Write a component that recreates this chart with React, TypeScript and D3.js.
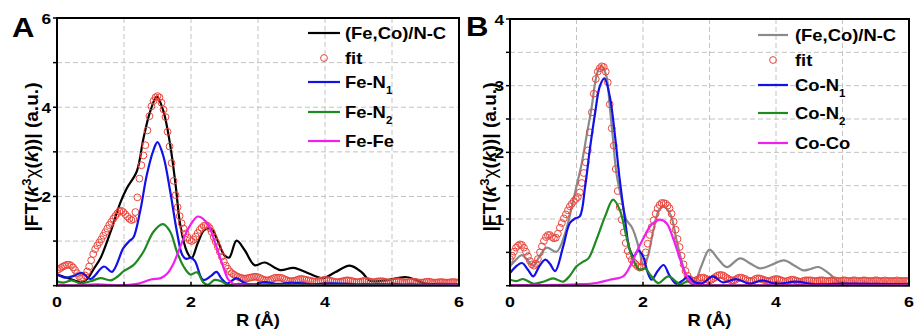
import React, { useLayoutEffect, useRef, useState } from "react";
import * as d3 from "d3";

type Pt = [number, number];

// ---- shared axis data ----
const R_DOMAIN: [number, number] = [0, 6];
const R_TICK_LABELS = [0, 2, 4, 6];
const R_GRID = [1, 2, 3, 4, 5];
const FIT_STEP = 0.03; // R spacing of the fitted points (Å)

// ---- panel A: Fe edge ----
const A_Y_MAX = 6;
const A_Y_LABELS = [2, 4, 6];
const A_Y_GRID = [1, 2, 3, 4, 5];

const A_DATA: Pt[] = [
  [0, 0.25], [0.1, 0.2], [0.2, 0.15], [0.3, 0.1], [0.37, 0.08], [0.45, 0.15], [0.55, 0.38],
  [0.65, 0.62], [0.8, 1.21], [0.95, 1.88], [1.04, 2.18], [1.19, 2.56], [1.29, 3.3], [1.39, 3.9],
  [1.49, 4.24], [1.59, 3.9], [1.69, 3.15], [1.77, 2.26], [1.84, 1.36], [1.94, 0.76], [2.01, 0.62],
  [2.1, 0.95], [2.2, 1.25], [2.3, 1.28], [2.4, 1.0], [2.5, 0.68], [2.57, 0.63], [2.68, 1.01],
  [2.8, 0.8], [2.95, 0.46], [3.1, 0.52], [3.33, 0.35], [3.53, 0.4], [3.75, 0.28], [3.97, 0.17],
  [4.15, 0.3], [4.37, 0.45], [4.55, 0.3], [4.67, 0.11], [4.9, 0.12], [5.22, 0.19], [5.5, 0.05],
  [5.75, 0.04], [6, 0.03],
];
const A_FEN1: Pt[] = [
  [0, 0.26], [0.12, 0.18], [0.25, 0.22], [0.37, 0.29], [0.5, 0.15], [0.7, 0.43], [0.82, 0.31],
  [0.99, 0.84], [1.08, 1.0], [1.14, 1.08], [1.24, 1.66], [1.34, 2.48], [1.44, 3.04], [1.5, 3.22],
  [1.59, 2.89], [1.69, 2.11], [1.79, 1.21], [1.87, 0.69], [1.93, 0.6], [2.0, 0.63], [2.06, 0.55],
  [2.18, 0.13], [2.3, 0.22], [2.38, 0.31], [2.46, 0.15], [2.54, 0.05], [2.68, 0.17], [2.8, 0.06],
  [2.95, 0.03], [3.1, 0.08], [3.3, 0.04], [3.5, 0.07], [3.8, 0.03], [4.1, 0.05], [4.5, 0.03],
  [5, 0.03], [6, 0.02],
];
const A_FEN2: Pt[] = [
  [0, 0.1], [0.1, 0.07], [0.22, 0.12], [0.35, 0.05], [0.5, 0.1], [0.65, 0.17], [0.8, 0.12],
  [0.9, 0.2], [1.0, 0.33], [1.14, 0.46], [1.29, 0.76], [1.44, 1.21], [1.58, 1.38], [1.69, 1.21],
  [1.79, 0.76], [1.89, 0.43], [1.99, 0.25], [2.09, 0.3], [2.18, 0.08], [2.25, 0.02], [2.35, 0.13],
  [2.45, 0.1], [2.55, 0.02], [2.7, 0.04], [3, 0.02], [6, 0.01],
];
const A_FEFE: Pt[] = [
  [0, 0.02], [0.3, 0.01], [0.6, 0.03], [0.9, 0.01], [1.2, 0.04], [1.4, 0.14], [1.55, 0.17],
  [1.65, 0.28], [1.74, 0.5], [1.8, 0.72], [1.89, 1.06], [1.99, 1.36], [2.1, 1.55], [2.18, 1.5],
  [2.26, 1.36], [2.38, 0.87], [2.48, 0.43], [2.56, 0.13], [2.65, 0.03], [2.8, 0.01], [6, 0.01],
];
// fitted |FT| on the FIT_STEP grid, R = 0 … 6 Å
const A_FIT: number[] = [
  0.35, 0.37, 0.40, 0.43, 0.45, 0.47, 0.47, 0.45, 0.41, 0.35,
  0.28, 0.21, 0.17, 0.18, 0.23, 0.32, 0.43, 0.57, 0.71, 0.82,
  0.90, 0.97, 1.04, 1.12, 1.20, 1.28, 1.36, 1.43, 1.50, 1.56,
  1.62, 1.67, 1.68, 1.65, 1.60, 1.55, 1.50, 1.47, 1.49, 1.65,
  1.98, 2.40, 2.70, 2.92, 3.15, 3.48, 3.80, 4.02, 4.14, 4.22,
  4.25, 4.22, 4.10, 3.95, 3.78, 3.45, 3.12, 2.75, 2.35, 2.03,
  1.76, 1.56, 1.40, 1.28, 1.17, 1.08, 1.02, 1.00, 1.03, 1.10,
  1.18, 1.25, 1.30, 1.34, 1.36, 1.34, 1.29, 1.20, 1.09, 0.98,
  0.87, 0.76, 0.65, 0.54, 0.45, 0.38, 0.32, 0.28, 0.25, 0.22,
  0.20, 0.18, 0.17, 0.16, 0.16, 0.17, 0.18, 0.19, 0.20, 0.20,
  0.19, 0.17, 0.15, 0.13, 0.12, 0.12, 0.13, 0.15, 0.17, 0.18,
  0.18, 0.18, 0.17, 0.15, 0.13, 0.11, 0.10, 0.10, 0.11, 0.12,
  0.14, 0.15, 0.15, 0.14, 0.13, 0.12, 0.11, 0.10, 0.09, 0.09,
  0.10, 0.11, 0.12, 0.13, 0.13, 0.12, 0.11, 0.10, 0.09, 0.08,
  0.08, 0.09, 0.10, 0.11, 0.12, 0.12, 0.11, 0.10, 0.09, 0.08,
  0.08, 0.09, 0.10, 0.11, 0.11, 0.10, 0.09, 0.08, 0.08, 0.09,
  0.10, 0.10, 0.10, 0.09, 0.08, 0.07, 0.07, 0.08, 0.09, 0.10,
  0.10, 0.09, 0.08, 0.07, 0.07, 0.08, 0.09, 0.09, 0.09, 0.08,
  0.07, 0.07, 0.07, 0.08, 0.09, 0.09, 0.08, 0.07, 0.07, 0.07,
  0.08, 0.08, 0.08, 0.07, 0.07, 0.07, 0.08, 0.08, 0.08, 0.07,
  0.07,
];

// ---- panel B: Co edge ----
const B_Y_MAX = 4;
const B_Y_LABELS = [1, 2, 3, 4];
const B_Y_GRID = [0.5, 1, 1.5, 2, 2.5, 3, 3.5];

const B_DATA: Pt[] = [
  [0, 0.29], [0.08, 0.38], [0.18, 0.46], [0.28, 0.36], [0.35, 0.3], [0.45, 0.45], [0.55, 0.57],
  [0.7, 0.51], [0.83, 0.79], [0.93, 1.19], [1.0, 1.49], [1.08, 1.84], [1.15, 2.24], [1.23, 2.69],
  [1.28, 3.04], [1.33, 3.24], [1.38, 3.29], [1.45, 3.14], [1.5, 2.69], [1.55, 2.19], [1.6, 1.69],
  [1.68, 1.29], [1.75, 0.99], [1.83, 0.88], [1.88, 0.76], [1.95, 0.52], [2.0, 0.32], [2.06, 0.4],
  [2.16, 0.85], [2.25, 1.15], [2.32, 1.18], [2.42, 1.05], [2.5, 0.7], [2.6, 0.3], [2.68, 0.08],
  [2.76, 0.02], [2.88, 0.3], [3.0, 0.54], [3.13, 0.4], [3.26, 0.28], [3.46, 0.41], [3.62, 0.33],
  [3.76, 0.26], [3.95, 0.32], [4.12, 0.38], [4.28, 0.3], [4.41, 0.23], [4.52, 0.25], [4.64, 0.28],
  [4.8, 0.18], [4.96, 0.05], [5.1, 0.03], [6, 0.03],
];
const B_CON1: Pt[] = [
  [0, 0.19], [0.08, 0.28], [0.18, 0.34], [0.27, 0.24], [0.35, 0.14], [0.44, 0.29], [0.53, 0.39],
  [0.6, 0.33], [0.68, 0.22], [0.8, 0.59], [0.9, 0.94], [0.98, 1.01], [1.05, 1.04], [1.13, 1.49],
  [1.2, 2.04], [1.28, 2.59], [1.35, 2.99], [1.42, 3.11], [1.5, 2.84], [1.58, 2.24], [1.65, 1.59],
  [1.73, 0.99], [1.8, 0.54], [1.86, 0.44], [1.93, 0.53], [2.0, 0.44], [2.07, 0.2], [2.13, 0.09],
  [2.22, 0.22], [2.31, 0.31], [2.4, 0.15], [2.5, 0.03], [2.6, 0.08], [2.68, 0.14], [2.78, 0.05],
  [2.9, 0.04], [3.05, 0.14], [3.2, 0.05], [3.4, 0.1], [3.6, 0.03], [3.8, 0.08], [4.0, 0.03],
  [4.3, 0.06], [4.6, 0.02], [5, 0.03], [6, 0.02],
];
const B_CON2: Pt[] = [
  [0, 0.09], [0.1, 0.07], [0.2, 0.1], [0.35, 0.03], [0.5, 0.06], [0.65, 0.11], [0.8, 0.06],
  [0.9, 0.15], [1.0, 0.29], [1.1, 0.36], [1.18, 0.41], [1.3, 0.69], [1.43, 1.04], [1.55, 1.29],
  [1.65, 1.14], [1.75, 0.74], [1.85, 0.39], [1.95, 0.24], [2.03, 0.26], [2.12, 0.15], [2.23, 0.04],
  [2.38, 0.14], [2.5, 0.06], [2.56, 0.02], [2.68, 0.07], [2.8, 0.01], [6, 0.01],
];
const B_COCO: Pt[] = [
  [0, 0.01], [0.5, 0.01], [1.0, 0.02], [1.3, 0.04], [1.5, 0.09], [1.7, 0.14], [1.8, 0.28],
  [1.9, 0.5], [2.0, 0.7], [2.1, 0.88], [2.18, 0.96], [2.26, 0.99], [2.36, 0.93], [2.46, 0.69],
  [2.56, 0.39], [2.66, 0.14], [2.76, 0.02], [2.9, 0.01], [6, 0.01],
];
const B_FIT: number[] = [
  0.40, 0.45, 0.51, 0.57, 0.60, 0.62, 0.61, 0.57, 0.51, 0.44,
  0.37, 0.32, 0.30, 0.33, 0.40, 0.50, 0.59, 0.67, 0.73, 0.76,
  0.76, 0.73, 0.71, 0.72, 0.78, 0.87, 0.94, 1.01, 1.07, 1.13,
  1.19, 1.23, 1.27, 1.30, 1.33, 1.40, 1.54, 1.69, 1.85, 2.03,
  2.30, 2.60, 2.88, 3.10, 3.21, 3.26, 3.29, 3.28, 3.21, 3.05,
  2.72, 2.36, 2.10, 1.75, 1.42, 1.18, 0.99, 0.80, 0.64, 0.52,
  0.45, 0.39, 0.35, 0.32, 0.29, 0.27, 0.28, 0.36, 0.50, 0.63,
  0.76, 0.88, 0.98, 1.08, 1.16, 1.21, 1.24, 1.24, 1.23, 1.20,
  1.16, 1.08, 0.96, 0.84, 0.70, 0.58, 0.45, 0.32, 0.22, 0.15,
  0.10, 0.08, 0.07, 0.08, 0.09, 0.11, 0.12, 0.12, 0.11, 0.09,
  0.08, 0.09, 0.11, 0.13, 0.15, 0.16, 0.16, 0.15, 0.13, 0.11,
  0.09, 0.08, 0.08, 0.09, 0.11, 0.12, 0.12, 0.11, 0.10, 0.08,
  0.07, 0.07, 0.08, 0.10, 0.11, 0.11, 0.10, 0.09, 0.08, 0.07,
  0.07, 0.08, 0.09, 0.10, 0.10, 0.09, 0.08, 0.07, 0.06, 0.07,
  0.08, 0.09, 0.09, 0.08, 0.07, 0.06, 0.06, 0.07, 0.08, 0.08,
  0.08, 0.08, 0.07, 0.07, 0.07, 0.08, 0.08, 0.08, 0.07, 0.07,
  0.07, 0.08, 0.08, 0.08, 0.07, 0.07, 0.07, 0.08, 0.08, 0.07,
  0.07, 0.07, 0.08, 0.08, 0.07, 0.07, 0.07, 0.08, 0.08, 0.07,
  0.07, 0.07, 0.07, 0.08, 0.08, 0.07, 0.07, 0.07, 0.08, 0.07,
  0.07, 0.07, 0.07, 0.07, 0.08, 0.07, 0.07, 0.07, 0.07, 0.07,
  0.07,
];

// ---- legend labels ----
const A_LEGEND = [
  { text: "(Fe,Co)/N-C", sub: "" },
  { text: "fit", sub: "" },
  { text: "Fe-N", sub: "1" },
  { text: "Fe-N", sub: "2" },
  { text: "Fe-Fe", sub: "" },
];
const B_LEGEND = [
  { text: "(Fe,Co)/N-C", sub: "" },
  { text: "fit", sub: "" },
  { text: "Co-N", sub: "1" },
  { text: "Co-N", sub: "2" },
  { text: "Co-Co", sub: "" },
];

// ---- styling ----
const FONT = "Arial, 'Liberation Sans', Helvetica, sans-serif";
const SX = 1.15; // glyphs are drawn slightly wide
const TITLE_LENGTH = 149; // span of the rotated y title (px)
const FIT_COLOR = "#e8463e";
const COLORS = {
  black: "#000000",
  gray: "#8a8a8a",
  blue: "#1212e6",
  green: "#1f8a1f",
  magenta: "#f01ef0",
};

type PanelProps = {
  id: string;
  left: number;
  right: number;
  top: number;
  bottom: number;
  yMax: number;
  yLabels: number[];
  yGrid: number[];
  letter: string;
  letterX: number;
  letterY: number;
  titleX: number;
  lines: { data: Pt[]; color: string }[];
  fit: number[];
  legend: { text: string; sub: string }[];
  legendColors: string[];
  legendLineX: [number, number];
  legendTextX: number;
  legendBaselines: number[];
};

function Txt(props: {
  x: number;
  y: number;
  size: number;
  anchor?: string;
  children: React.ReactNode;
}) {
  const { x, y, size, anchor = "start", children } = props;
  return (
    <text
      transform={`translate(${x},${y}) scale(${SX},1)`}
      textAnchor={anchor}
      fontSize={size}
      fontWeight="bold"
      fontFamily={FONT}
      fill="#000"
    >
      {children}
    </text>
  );
}

// Rotated y-axis title, scaled along its baseline to a fixed span.
function YTitle({ x, y }: { x: number; y: number }) {
  const ref = useRef<SVGTextElement>(null);
  const [k, setK] = useState(1);
  useLayoutEffect(() => {
    if (!ref.current) return;
    const w = ref.current.getBBox().width;
    if (w > 0) setK(TITLE_LENGTH / w);
  }, []);
  return (
    <g transform={`translate(${x},${y}) rotate(-90) scale(${k},${SX})`}>
      <text
        ref={ref}
        textAnchor="middle"
        fontSize={16}
        fontWeight="bold"
        fontFamily={FONT}
        fill="#000"
      >
        |FT(
        <tspan fontStyle="italic">k</tspan>
        <tspan dy={-6} fontSize={11}>
          3
        </tspan>
        <tspan dy={6} fontWeight="normal">
          χ
        </tspan>
        (<tspan fontStyle="italic">k</tspan>))| (a.u.)
      </text>
    </g>
  );
}

function Panel(p: PanelProps) {
  const x = d3.scaleLinear().domain(R_DOMAIN).range([p.left, p.right]);
  const y = d3.scaleLinear().domain([0, p.yMax]).range([p.bottom, p.top]);
  const line = d3
    .line<Pt>()
    .x((d) => x(d[0]))
    .y((d) => y(d[1]))
    .curve(d3.curveCatmullRom.alpha(0.5));
  const clip = `clip-${p.id}`;
  const [data, ...components] = p.lines;
  const yTicks = [0, ...p.yGrid, p.yMax];
  const xTicks = d3.range(R_DOMAIN[0], R_DOMAIN[1] + 1, 1);

  return (
    <g>
      <defs>
        <clipPath id={clip}>
          <rect x={p.left} y={p.top} width={p.right - p.left} height={p.bottom - p.top} />
        </clipPath>
      </defs>

      {/* dashed grid */}
      <g stroke="#c2c2c2" strokeWidth={1} strokeDasharray="5,3" fill="none">
        {R_GRID.map((r) => (
          <line key={`gx${r}`} x1={x(r)} x2={x(r)} y1={p.top} y2={p.bottom} />
        ))}
        {p.yGrid.map((v) => (
          <line key={`gy${v}`} x1={p.left} x2={p.right} y1={y(v)} y2={y(v)} />
        ))}
      </g>

      <g clipPath={`url(#${clip})`}>
        <path d={line(data.data) || ""} fill="none" stroke={data.color} strokeWidth={2.2} />
        <g fill="none" stroke={FIT_COLOR} strokeWidth={1}>
          {p.fit.map((v, i) => (
            <circle key={i} cx={x(i * FIT_STEP)} cy={y(v)} r={3.4} />
          ))}
        </g>
        {components.map((c, i) => (
          <path key={i} d={line(c.data) || ""} fill="none" stroke={c.color} strokeWidth={2.2} />
        ))}
      </g>

      {/* frame */}
      <rect
        x={p.left}
        y={p.top}
        width={p.right - p.left}
        height={p.bottom - p.top}
        fill="none"
        stroke="#000"
        strokeWidth={2}
      />

      {/* ticks */}
      <g stroke="#000" strokeWidth={1.5}>
        {yTicks.map((v) => (
          <line key={`ty${v}`} x1={p.left - 4} x2={p.left} y1={y(v)} y2={y(v)} />
        ))}
        {xTicks.map((r) => (
          <line key={`tx${r}`} x1={x(r)} x2={x(r)} y1={p.bottom} y2={p.bottom - 4} />
        ))}
      </g>

      {/* tick labels */}
      {p.yLabels.map((v) => (
        <Txt key={`ly${v}`} x={p.left - 6} y={y(v) + 5.5} size={15} anchor="end">
          {v}
        </Txt>
      ))}
      {R_TICK_LABELS.map((r) => (
        <Txt key={`lx${r}`} x={x(r)} y={p.bottom + 21.5} size={15.5} anchor="middle">
          {r}
        </Txt>
      ))}

      {/* axis titles */}
      <Txt x={(p.left + p.right) / 2} y={326} size={16} anchor="middle">
        R (Å)
      </Txt>
      <YTitle x={p.titleX} y={157} />

      {/* panel letter */}
      <Txt x={p.letterX} y={p.letterY} size={27}>
        {p.letter}
      </Txt>

      {/* legend */}
      {p.legend.map((item, i) => {
        const by = p.legendBaselines[i];
        const cy = by - 6;
        const [lx0, lx1] = p.legendLineX;
        return (
          <g key={`lg${i}`}>
            {i === 1 ? (
              <circle cx={(lx0 + lx1) / 2} cy={cy} r={3.4} fill="none" stroke={FIT_COLOR} strokeWidth={1} />
            ) : (
              <line x1={lx0} x2={lx1} y1={cy} y2={cy} stroke={p.legendColors[i]} strokeWidth={2.2} />
            )}
            <Txt x={p.legendTextX} y={by} size={16}>
              {item.text}
              {item.sub ? (
                <tspan dy={6} fontSize={10}>
                  {item.sub}
                </tspan>
              ) : null}
            </Txt>
          </g>
        );
      })}
    </g>
  );
}

export default function App() {
  return (
    <svg
      width={917}
      height={333}
      viewBox="0 0 917 333"
      style={{ position: "absolute", left: 0, top: 0, background: "#fff" }}
    >
      <rect x={0} y={0} width={917} height={333} fill="#fff" />
      <Panel
        id="a"
        left={57}
        right={459}
        top={18}
        bottom={285.7}
        yMax={A_Y_MAX}
        yLabels={A_Y_LABELS}
        yGrid={A_Y_GRID}
        letter="A"
        letterX={12}
        letterY={37}
        titleX={38}
        lines={[
          { data: A_DATA, color: COLORS.black },
          { data: A_FEN1, color: COLORS.blue },
          { data: A_FEN2, color: COLORS.green },
          { data: A_FEFE, color: COLORS.magenta },
        ]}
        fit={A_FIT}
        legend={A_LEGEND}
        legendColors={[COLORS.black, FIT_COLOR, COLORS.blue, COLORS.green, COLORS.magenta]}
        legendLineX={[308, 340]}
        legendTextX={345}
        legendBaselines={[39, 64, 88, 118, 147]}
      />
      <Panel
        id="b"
        left={510}
        right={909}
        top={19}
        bottom={285.7}
        yMax={B_Y_MAX}
        yLabels={B_Y_LABELS}
        yGrid={B_Y_GRID}
        letter="B"
        letterX={466}
        letterY={36}
        titleX={496}
        lines={[
          { data: B_DATA, color: COLORS.gray },
          { data: B_CON1, color: COLORS.blue },
          { data: B_CON2, color: COLORS.green },
          { data: B_COCO, color: COLORS.magenta },
        ]}
        fit={B_FIT}
        legend={B_LEGEND}
        legendColors={[COLORS.gray, FIT_COLOR, COLORS.blue, COLORS.green, COLORS.magenta]}
        legendLineX={[758, 788]}
        legendTextX={795}
        legendBaselines={[41, 66, 91, 119, 149]}
      />
    </svg>
  );
}
